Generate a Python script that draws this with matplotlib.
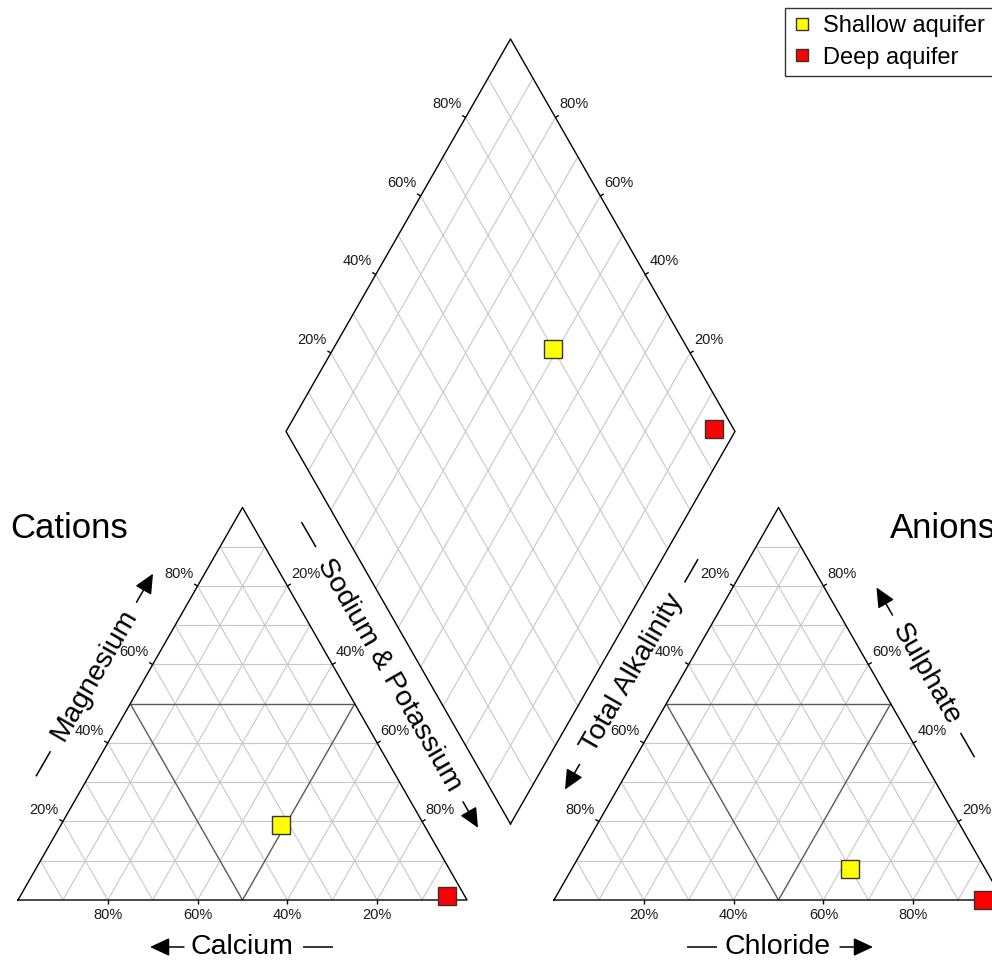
import numpy as np
import matplotlib
matplotlib.use('Agg')
import matplotlib.pyplot as plt
from matplotlib.lines import Line2D

plt.rcParams['font.family'] = ['Liberation Sans', 'DejaVu Sans']

samples = ['Shallow aquifer', 'Deep aquifer']
colors = ['#ffff00', '#ff0000']
# cations, % meq
calcium = [32, 4]
magnesium = [19, 1]
sodium_potassium = [49, 95]
# anions, % meq
alkalinity = [30, 4.5]
sulphate = [8, 0]
chloride = [62, 95.5]

tick_values = [20, 40, 60, 80]
tick_labels = ['20%', '40%', '60%', '80%']

# diagram layout, in pixels of the output image
X0, Y0 = 18, 900          # lower-left corner of the cation triangle
SIDE, HGT = 449, 392.5    # triangle base and height
GAP = 87                  # space between the two triangles
X1 = X0 + SIDE + GAP      # lower-left corner of the anion triangle
BX, BY = X0 + SIDE + GAP / 2, Y0 - HGT * GAP / SIDE   # bottom of the diamond


def tri(right, top, x0):
    # fractions of the right and top corners -> position in a triangle
    return np.array([x0 + SIDE * (right + top / 2), Y0 - HGT * top])


def dia(a, b):
    # a = Cl+SO4 fraction, b = Ca+Mg fraction -> position in the diamond
    return np.array([BX + SIDE / 2 * (a - b), BY - HGT * (a + b)])


def seg(ax, p, q, color, lw):
    ax.plot([p[0], q[0]], [p[1], q[1]], color=color, lw=lw, solid_capstyle='butt', zorder=1)


fig = plt.figure(figsize=(9.92, 9.63), dpi=100)
ax = fig.add_axes([0, 0, 1, 1])
ax.set_xlim(0, 992)
ax.set_ylim(963, 0)
ax.axis('off')

light, dark = '#c8c8c8', '#5a5a5a'

# triangles: grid, 50% lines, outline
for x0 in (X0, X1):
    for i in range(1, 10):
        f = i / 10
        c, lw = (dark, 1.0) if i == 5 else (light, 0.8)
        seg(ax, tri(0, f, x0), tri(1 - f, f, x0), c, lw)
        seg(ax, tri(1 - f, 0, x0), tri(0, 1 - f, x0), c, lw)
        seg(ax, tri(f, 0, x0), tri(f, 1 - f, x0), c, lw)
    pts = np.array([tri(0, 0, x0), tri(1, 0, x0), tri(0, 1, x0), tri(0, 0, x0)])
    ax.plot(pts[:, 0], pts[:, 1], color='black', lw=1.0, zorder=2)

# diamond
for i in range(1, 10):
    f = i / 10
    seg(ax, dia(f, 0), dia(f, 1), light, 0.8)
    seg(ax, dia(0, f), dia(1, f), light, 0.8)
pts = np.array([dia(0, 0), dia(1, 0), dia(1, 1), dia(0, 1), dia(0, 0)])
ax.plot(pts[:, 0], pts[:, 1], color='black', lw=1.0, zorder=2)

# ticks and percentage labels: (edge point function, outward normal, label offset)
s3 = np.sqrt(3) / 2
edges = [
    (lambda v: tri(1 - v, 0, X0), (0, 1), (0, 15)),       # calcium
    (lambda v: tri(0, v, X0), (-s3, -0.5), (-19, -12)),   # magnesium
    (lambda v: tri(v, 1 - v, X0), (s3, -0.5), (18, -12)),  # sodium & potassium
    (lambda v: tri(v, 0, X1), (0, 1), (0, 15)),           # chloride
    (lambda v: tri(0, 1 - v, X1), (-s3, -0.5), (-19, -12)),  # alkalinity
    (lambda v: tri(1 - v, v, X1), (s3, -0.5), (19, -12)),  # sulphate
    (lambda v: dia(v, 1), (-s3, -0.5), (-19, -13)),       # diamond, upper left
    (lambda v: dia(1, v), (s3, -0.5), (19, -13)),         # diamond, upper right
]
for point, normal, off in edges:
    for v, lab in zip(tick_values, tick_labels):
        p = point(v / 100)
        q = p + 4 * np.array(normal)
        seg(ax, p, q, 'black', 1.0)
        ax.text(p[0] + off[0], p[1] + off[1], lab, fontsize=10.5, color='#1a1a1a',
                ha='center', va='center')

# axis titles with a dash on one side and an arrow on the other
titles = [
    # text, centre, angle, dash span, arrow (tail, tip) along the text direction
    ('Calcium', (242, 947), 0, (61, 91), (-58, -92)),
    ('Chloride', (778, 947), 0, (-61, -91), (62, 95)),
    ('Magnesium', (94.5, 675), 60, (-88, -117), (84, 117)),
    ('Sodium & Potassium', (389.5, 674.5), -60, (-147, -176), (147, 177)),
    ('Total Alkalinity', (632, 673.5), 60, (105, 132), (-105, -134)),
    ('Sulphate', (926.5, 674), -60, (68, 96), (-68, -100)),
]
for text, (cx, cy), ang, dash, arrow in titles:
    d = np.array([np.cos(np.radians(ang)), -np.sin(np.radians(ang))])
    c = np.array([cx, cy])
    ax.text(cx, cy, text, fontsize=20.5, rotation=ang, rotation_mode='anchor',
            ha='center', va='center')
    seg(ax, c + dash[0] * d, c + dash[1] * d, 'black', 1.1)
    ax.annotate('', xy=c + arrow[1] * d, xytext=c + arrow[0] * d,
                arrowprops=dict(arrowstyle='-|>,head_length=0.6,head_width=0.28',
                                mutation_scale=20, color='black', lw=1.1,
                                shrinkA=0, shrinkB=0))

ax.text(10, 538, 'Cations', fontsize=25, ha='left', va='baseline')
ax.text(890, 538, 'Anions', fontsize=25, ha='left', va='baseline')

# samples in the three fields
for i in range(len(samples)):
    cat = tri(sodium_potassium[i] / 100, magnesium[i] / 100, X0)
    an = tri(chloride[i] / 100, sulphate[i] / 100, X1)
    dm = dia((chloride[i] + sulphate[i]) / 100, (calcium[i] + magnesium[i]) / 100)
    for p in (cat, an, dm):
        ax.plot(p[0], p[1], marker='s', ms=13, mfc=colors[i], mec='#333333',
                mew=1.0, ls='none', zorder=5, clip_on=False)

handles = [Line2D([], [], marker='s', ls='none', ms=9, mfc=c, mec='#333333', mew=1.0)
           for c in colors]
leg = fig.legend(handles, samples, loc='upper left',
                 bbox_to_anchor=(785 / 992, 1 - 8 / 963 - 0.01, 0.23, 0.01), mode='expand',
                 fontsize=17, frameon=True, fancybox=False, handlelength=0.8,
                 handletextpad=0.5, borderpad=0.3, labelspacing=0.4, borderaxespad=0)
leg.get_frame().set_edgecolor('black')
leg.get_frame().set_linewidth(1.0)

fig.savefig('out.png', dpi=100)
